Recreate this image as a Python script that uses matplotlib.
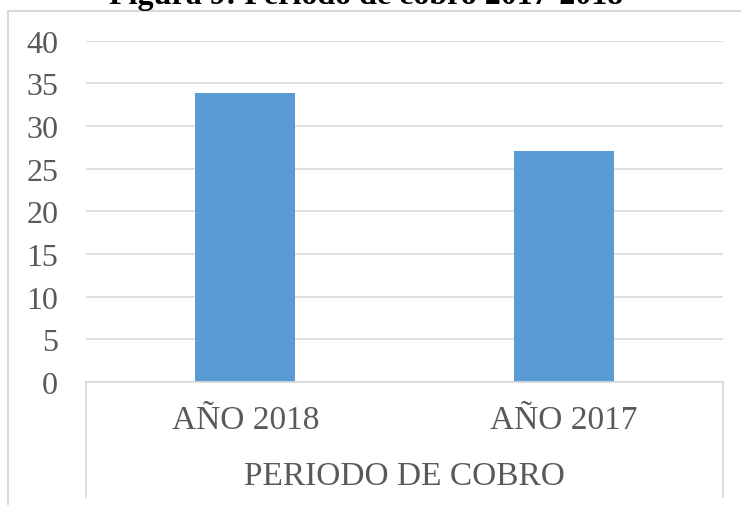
import matplotlib
matplotlib.use("Agg")
import matplotlib.pyplot as plt
from matplotlib.patches import Rectangle
from matplotlib.lines import Line2D

categories = ["AÑO 2018", "AÑO 2017"]
values = [33.9, 27.1]
group_label = "PERIODO DE COBRO"
title = "Figura 9: Periodo de cobro 2017-2018"
yticks = [0, 5, 10, 15, 20, 25, 30, 35, 40]

W, H = 741, 506
GRAY = "#595959"
GRID = "#d9d9d9"

plt.rcParams["font.family"] = ["Liberation Serif", "DejaVu Serif"]

fig = plt.figure(figsize=(W / 100, H / 100), dpi=100)

# outer chart frame (runs off the right and bottom edges)
fig.patches.append(Rectangle((8 / W, -0.1), 1.2, 1 - 12 / H + 0.1,
                             transform=fig.transFigure, fill=False,
                             edgecolor=GRID, lw=1.5))

ax = fig.add_axes([86 / W, 1 - 383 / H, (723 - 86) / W, (383 - 41.7) / H])
x = range(len(categories))
ax.bar(x, values, width=0.314, color="#5b9bd5", zorder=2)
ax.set_xlim(-0.5, 1.5)
ax.set_ylim(0, 40)
ax.set_yticks(yticks)
ax.set_yticklabels([str(t) for t in yticks], fontsize=23, color=GRAY)
ax.tick_params(axis="y", length=0, pad=20)
ax.set_xticks([])
for s in ["top", "right", "left"]:
    ax.spines[s].set_visible(False)
ax.spines["bottom"].set_color(GRID)
ax.spines["bottom"].set_linewidth(1.2)
ax.grid(axis="y", color=GRID, lw=1.2, zorder=0)
ax.set_axisbelow(True)

# multi-level category box
ybot = -(498 - 383) / (383 - 41.7)
for xx in (0, 1):
    ax.add_line(Line2D([xx, xx], [0, ybot], transform=ax.transAxes,
                       color=GRID, lw=1.2, clip_on=False))
for i, c in enumerate(categories):
    ax.text(i, -(421 - 383) / (383 - 41.7), c, transform=ax.get_xaxis_transform(),
            ha="center", va="center", fontsize=24, color=GRAY)
ax.text(0.5, -(477 - 383) / (383 - 41.7), group_label, transform=ax.transAxes,
        ha="center", va="center", fontsize=24, color=GRAY)

fig.text(366 / W, 1 - 4 / H, title, ha="center", va="baseline",
         fontsize=23, fontweight="bold", color="black")

fig.savefig("out.png", dpi=100)
